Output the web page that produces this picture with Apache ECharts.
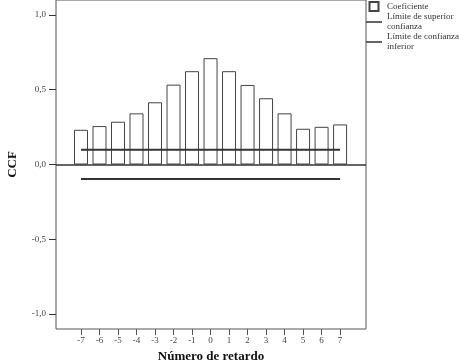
<!DOCTYPE html>
<html>
<head>
<meta charset="utf-8">
<script src="https://cdn.jsdelivr.net/npm/echarts@6/dist/echarts.min.js"></script>
<style>
  html, body { margin: 0; padding: 0; background: #fff; }
  #ccf { width: 459px; height: 364px; }
</style>
</head>
<body>
<div id="ccf"></div>
<script>
// datos
var retardos = [-7, -6, -5, -4, -3, -2, -1, 0, 1, 2, 3, 4, 5, 6, 7];
var coeficiente = [0.232, 0.257, 0.286, 0.342, 0.416, 0.534, 0.624, 0.711, 0.624, 0.532, 0.443, 0.342, 0.239, 0.252, 0.268];
var limiteSuperior = [0.098, 0.098];
var limiteInferior = [-0.097, -0.097];
var yTicks = [-1, -0.5, 0, 0.5, 1];

var fuente = 'Liberation Serif';

var myChart = echarts.init(document.getElementById('ccf'));

var barras = retardos.map(function (r, i) { return [r, coeficiente[i]]; });
var sup = [[retardos[0], limiteSuperior[0]], [retardos[retardos.length - 1], limiteSuperior[1]]];
var inf = [[retardos[0], limiteInferior[0]], [retardos[retardos.length - 1], limiteInferior[1]]];

var nombres = {
  'Coeficiente': 'Coeficiente',
  'Límite de superior confianza': 'Límite de superior\nconfianza',
  'Límite de confianza inferior': 'Límite de confianza\ninferior'
};
var iconoLinea = 'path://M0,0h16v1.5h-16z';

var option = {
  animation: false,
  grid: {
    left: 56, right: 93, top: 0, bottom: 35,
    outerBoundsMode: 'none',
    show: true,
    borderColor: '#555',
    borderWidth: 1
  },
  legend: {
    orient: 'vertical',
    left: 366,
    top: 1,
    itemWidth: 16,
    itemHeight: 9,
    itemGap: 0,
    padding: 0,
    textStyle: { fontFamily: fuente, fontSize: 9, color: '#333', lineHeight: 10 },
    formatter: function (name) { return nombres[name]; },
    data: [
      { name: 'Coeficiente', icon: 'path://M0,0h10v10h-10z' },
      { name: 'Límite de superior confianza', icon: iconoLinea },
      { name: 'Límite de confianza inferior', icon: iconoLinea }
    ]
  },
  xAxis: {
    type: 'value',
    min: -8.35,
    max: 8.4,
    name: 'Número de retardo',
    nameLocation: 'middle',
    nameGap: 19,
    nameTextStyle: { fontFamily: fuente, fontSize: 13, fontWeight: 'bold', color: '#111' },
    splitLine: { show: false },
    axisLine: { show: false, onZero: false },
    axisTick: { show: true, length: 6, customValues: retardos, lineStyle: { color: '#555' } },
    axisLabel: {
      customValues: retardos,
      fontFamily: fuente, fontSize: 9, color: '#444', margin: 7
    }
  },
  yAxis: {
    type: 'value',
    min: -1.1,
    max: 1.1,
    name: 'CCF',
    nameLocation: 'middle',
    nameGap: 37,
    nameTextStyle: { fontFamily: fuente, fontSize: 13, fontWeight: 'bold', color: '#111' },
    splitLine: { show: false },
    axisLine: { show: false, onZero: false },
    axisTick: { show: true, length: 7, customValues: yTicks, lineStyle: { color: '#333' } },
    axisLabel: {
      customValues: yTicks,
      fontFamily: fuente, fontSize: 9, color: '#444', margin: 10,
      formatter: function (v) { return v.toFixed(1).replace('.', ','); }
    }
  },
  series: [
    {
      name: 'Coeficiente',
      type: 'bar',
      data: barras,
      barWidth: 14,
      itemStyle: { color: '#fff', borderColor: '#444', borderWidth: 1 },
      markLine: {
        silent: true,
        symbol: 'none',
        label: { show: false },
        lineStyle: { color: '#333', type: 'solid', width: 1.5 },
        data: [{ yAxis: 0 }]
      }
    },
    {
      name: 'Límite de superior confianza',
      type: 'line',
      data: sup,
      symbol: 'none',
      lineStyle: { color: '#333', width: 2 },
      itemStyle: { color: '#333' }
    },
    {
      name: 'Límite de confianza inferior',
      type: 'line',
      data: inf,
      symbol: 'none',
      lineStyle: { color: '#333', width: 2 },
      itemStyle: { color: '#333' }
    }
  ]
};
myChart.setOption(option);
</script>
</body>
</html>
